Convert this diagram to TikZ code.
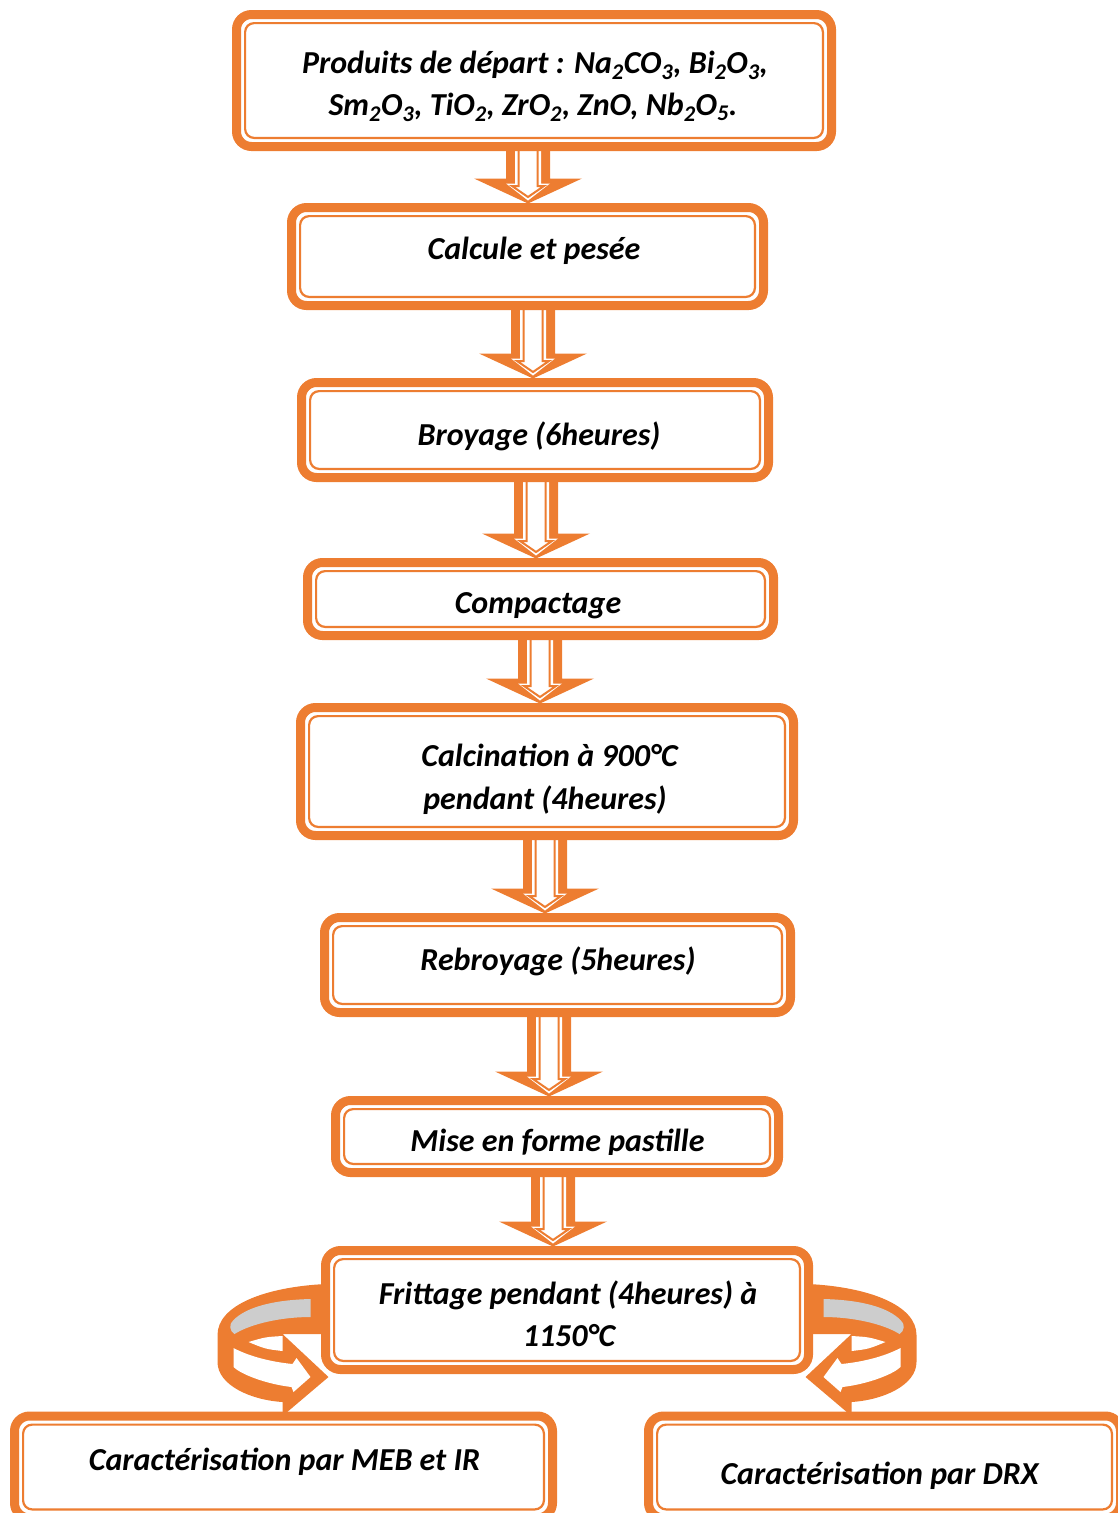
\documentclass[tikz,border=0pt]{standalone}
\usepackage{fontspec}
\setmainfont{Carlito}
\usetikzlibrary{calc,backgrounds}
\definecolor{orb}{HTML}{ED7D31}
\definecolor{grb}{HTML}{CDCDCD}
\tikzset{
  box/.style={rectangle, draw=orb, line width=9pt, rounded corners=15pt, fill=white, inner sep=0pt, outer sep=0pt},
  innerline/.style={draw=orb, line width=2.2pt, rounded corners=9pt},
  lbl/.style={font=\fontsize{32}{42}\selectfont\bfseries\itshape, inner sep=0pt, anchor=base},
  arrout/.style={fill=orb},
  arrmid/.style={fill=white},
  arrin/.style={draw=orb, line width=2pt, fill=white, line join=miter},
}
\newcommand\flowarr[3]{%
  \path[arrout] let \p1=(#2.south), \p2=(#3.north) in
    ({#1pt-22pt},\y1) -- ({#1pt-22pt},{\y2+29pt}) -- ({#1pt-54pt},{\y2+29pt}) -- ({#1pt},{\y2+4pt})
    -- ({#1pt+54pt},{\y2+29pt}) -- ({#1pt+22pt},{\y2+29pt}) -- ({#1pt+22pt},\y1) -- cycle;
  \path[arrmid] let \p1=(#2.south), \p2=(#3.north) in
    ({#1pt-13pt},\y1) -- ({#1pt-13pt},{\y2+24pt}) -- ({#1pt-22pt},{\y2+24pt}) -- ({#1pt},{\y2+7pt})
    -- ({#1pt+22pt},{\y2+24pt}) -- ({#1pt+13pt},{\y2+24pt}) -- ({#1pt+13pt},\y1) -- cycle;
  \path[arrin] let \p1=(#2.south), \p2=(#3.north) in
    ({#1pt-9.5pt},\y1) -- ({#1pt-9.5pt},{\y2+21.5pt}) -- ({#1pt-16pt},{\y2+21.5pt}) -- ({#1pt},{\y2+10.5pt})
    -- ({#1pt+16pt},{\y2+21.5pt}) -- ({#1pt+9.5pt},{\y2+21.5pt}) -- ({#1pt+9.5pt},\y1);
}
\newcommand\curlshape{%
  \fill[orb] (0,26) .. controls (-60,23) and (-108,5) .. (-108,-25) -- (-108,-52)
    .. controls (-108,-75) and (-75,-90) .. (-43,-92) -- (-43,-106) -- (3,-67) -- (-43,-24) -- (0,-24) -- cycle;
  \fill[grb] (-15,11) .. controls (-55,10) and (-80,2) .. (-92,-10)
    .. controls (-97,-14) and (-96,-21) .. (-91,-24)
    .. controls (-75,-14) and (-45,-7) .. (-15,-7) -- cycle;
  \fill[white] (-77,-32) .. controls (-60,-27) .. (-43,-26) -- (-43,-41) .. controls (-60,-39) .. (-77,-32) -- cycle;
  \fill[white] (-92,-38) .. controls (-75,-47) and (-53,-52) .. (-33,-54) -- (-29,-48) -- (-15,-67)
    -- (-32,-82) -- (-34,-77) .. controls (-60,-74) and (-85,-64) .. (-92,-57) -- cycle;
}
\begin{document}
\begin{tikzpicture}[x=1pt,y=1pt]
\useasboundingbox (0,0) rectangle (1117,-1513);
% boxes
\node[box, minimum width=595pt, minimum height=132pt] (b1) at (534,-80.5) {};
\node[box, minimum width=472pt, minimum height=98pt] (b2) at (527.5,-256.5) {};
\node[box, minimum width=467pt, minimum height=95pt] (b3) at (535,-430) {};
\node[box, minimum width=466pt, minimum height=73pt] (b4) at (540.5,-599) {};
\node[box, minimum width=493pt, minimum height=128pt] (b5) at (547,-771.5) {};
\node[box, minimum width=466pt, minimum height=95pt] (b6) at (557.5,-965) {};
\node[box, minimum width=443pt, minimum height=72pt] (b7) at (557,-1136.5) {};
\node[box, minimum width=483pt, minimum height=119pt] (b8) at (567,-1310) {};
\node[box, minimum width=538pt, minimum height=102pt] (b9) at (283.5,-1467) {};
\node[box, minimum width=472pt, minimum height=102pt] (b10) at (884.5,-1467) {};
\foreach \n in {b1,b2,b3,b4,b5,b6,b7,b8,b9,b10}
  \draw[innerline] ([shift={(8.6,-8.6)}]\n.north west) rectangle ([shift={(-8.6,8.6)}]\n.south east);
% connectors
\begin{scope}[on background layer]
  \flowarr{528}{b1}{b2}
  \flowarr{533}{b2}{b3}
  \flowarr{536}{b3}{b4}
  \flowarr{540}{b4}{b5}
  \flowarr{545}{b5}{b6}
  \flowarr{549}{b6}{b7}
  \flowarr{553}{b7}{b8}
  \begin{scope}[shift={(b8.west)}]
    \curlshape
  \end{scope}
  \begin{scope}[shift={(b8.east)}, xscale=-1]
    \curlshape
  \end{scope}
\end{scope}
% texts
\node[lbl] (t1a) at (535,-73) {Produits de départ : Na\textsubscript{2}CO\textsubscript{3}, Bi\textsubscript{2}O\textsubscript{3},};
\node[lbl] (t1b) at (533,-115) {Sm\textsubscript{2}O\textsubscript{3}, TiO\textsubscript{2}, ZrO\textsubscript{2}, ZnO, Nb\textsubscript{2}O\textsubscript{5}.};
\node[lbl] (t2) at (534,-259) {Calcule et pesée};
\node[lbl] (t3) at (539,-445) {Broyage (6heures)};
\node[lbl] (t4) at (538,-613) {Compactage};
\node[lbl] (t5a) at (549.5,-766) {Calcination à 900°C};
\node[lbl] (t5b) at (545,-809) {pendant (4heures)};
\node[lbl] (t6) at (558,-970) {Rebroyage (5heures)};
\begin{scope}
  \clip (335,-1100) rectangle (779,-1154);
  \node[lbl] (t7) at (557.5,-1151) {Mise en forme pastille};
\end{scope}
\node[lbl] (t8a) at (568,-1304) {Frittage pendant (4heures) à};
\node[lbl] (t8b) at (569,-1346) {1150°C};
\node[lbl] (t9) at (284.5,-1470) {Caractérisation par MEB et IR};
\node[lbl] (t10) at (879.5,-1484) {Caractérisation par DRX};
\end{tikzpicture}
\end{document}
